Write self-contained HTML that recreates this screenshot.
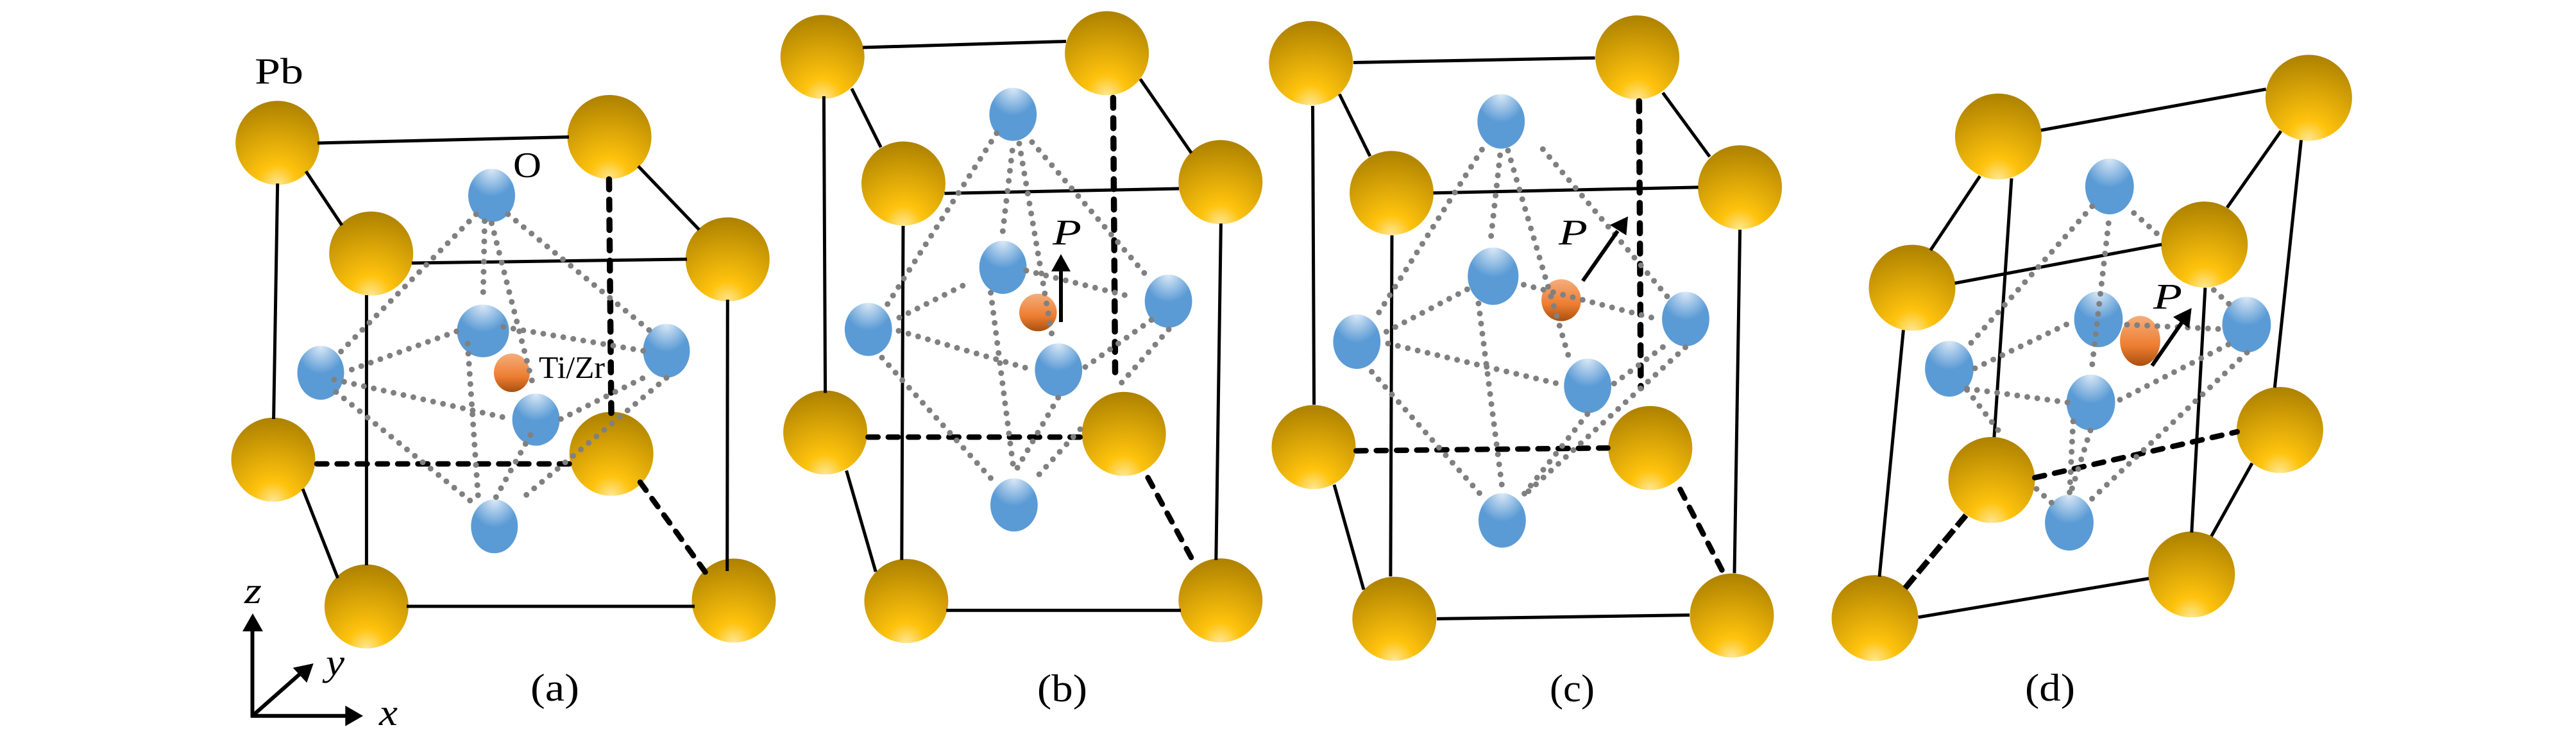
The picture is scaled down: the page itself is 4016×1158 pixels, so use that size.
<!DOCTYPE html>
<html>
<head>
<meta charset="utf-8">
<style>
html,body{margin:0;padding:0;background:#fff}
svg{display:block}
.s{stroke:#000;stroke-width:5;fill:none}
.d{stroke:#000;stroke-width:8.5;fill:none;stroke-dasharray:15.5 16;stroke-linecap:round}
.v{stroke:#000;stroke-width:9.5;fill:none;stroke-dasharray:15.5 16.2;stroke-linecap:round}
.t{stroke:#000;stroke-width:9;fill:none;stroke-dasharray:24 7.5}
.p{stroke:#808080;stroke-width:9;fill:none;stroke-dasharray:0 15.8;stroke-linecap:round}
.a{stroke:#000;stroke-width:6;fill:none}
.g{fill:url(#gold)}
.b{fill:url(#blue)}
.o{fill:url(#orange)}
text{font-family:"Liberation Serif",serif;fill:#000}
.i{font-style:italic}
</style>
</head>
<body>
<svg width="4016" height="1158" viewBox="0 0 4016 1158" xmlns="http://www.w3.org/2000/svg">
<defs>
<radialGradient id="gold" cx="0.5" cy="1" r="1" fx="0.5" fy="1">
<stop offset="0" stop-color="#FFE795"/>
<stop offset="0.24" stop-color="#FFC30D"/>
<stop offset="1" stop-color="#AD8100"/>
</radialGradient>
<radialGradient id="blue" cx="0.5" cy="0" r="0.65" fx="0.5" fy="0">
<stop offset="0" stop-color="#DDEAF7"/>
<stop offset="0.8" stop-color="#5B9BD5"/>
<stop offset="1" stop-color="#5B9BD5"/>
</radialGradient>
<linearGradient id="orange" x1="0" y1="0" x2="0" y2="1">
<stop offset="0" stop-color="#F4AE7C"/>
<stop offset="0.6" stop-color="#ED7D31"/>
<stop offset="1" stop-color="#A9500F"/>
</linearGradient>
</defs>
<rect width="4016" height="1158" fill="#fff"/>

<!-- Panel a -->
<g>
<circle class="g" cx="432.7" cy="222.6" r="65.5"/>
<circle class="g" cx="950.1" cy="213.5" r="65.5"/>
<circle class="g" cx="578.7" cy="395.1" r="65.5"/>
<circle class="g" cx="1134.3" cy="404.3" r="65.5"/>
<circle class="g" cx="426" cy="716.4" r="65.5"/>
<circle class="g" cx="953.2" cy="707.3" r="65.5"/>
<circle class="g" cx="571.4" cy="945.1" r="65.5"/>
<circle class="g" cx="1144" cy="936" r="65.5"/>
<line class="s" x1="495" y1="223" x2="887" y2="213.5"/>
<line class="s" x1="642" y1="410" x2="1071" y2="404"/>
<line class="s" x1="477" y1="267" x2="533" y2="351"/>
<line class="s" x1="995" y1="259" x2="1090" y2="358"/>
<line class="s" x1="432.7" y1="286" x2="426.6" y2="653"/>
<line class="s" x1="571.4" y1="460" x2="571.4" y2="881"/>
<line class="s" x1="1134.3" y1="467" x2="1133.7" y2="890"/>
<line class="s" x1="472" y1="762" x2="526.6" y2="901"/>
<line class="s" x1="634" y1="945" x2="1083" y2="945"/>
<line class="v" x1="949.5" y1="279.5" x2="953" y2="645"/>
<line class="d" x1="494" y1="723" x2="892.5" y2="723"/>
<line class="d" x1="998" y1="751.5" x2="1099.8" y2="892"/>
<ellipse class="b" cx="766.5" cy="304.6" rx="36.5" ry="41.5"/>
<ellipse class="b" cx="500" cy="581" rx="36.5" ry="42"/>
<ellipse class="b" cx="753" cy="515.8" rx="40.6" ry="41"/>
<ellipse class="b" cx="1039" cy="546.7" rx="36.5" ry="42"/>
<ellipse class="b" cx="835.6" cy="654" rx="37" ry="40.6"/>
<ellipse class="b" cx="770.8" cy="820.3" rx="36.5" ry="42"/>
<ellipse class="o" cx="798" cy="581" rx="28" ry="30"/>
<line class="p" x1="742.3" y1="334" x2="530" y2="549.5"/>
<line class="p" x1="755.6" y1="344.6" x2="753" y2="469"/>
<line class="p" x1="766.5" y1="348" x2="833" y2="607.7"/>
<line class="p" x1="792" y1="334" x2="1012" y2="514.4"/>
<line class="p" x1="548.4" y1="576" x2="713" y2="516"/>
<line class="p" x1="521" y1="591.6" x2="797" y2="653"/>
<line class="p" x1="784.7" y1="509.5" x2="1002.8" y2="546.7"/>
<line class="p" x1="874.4" y1="653" x2="1015" y2="583"/>
<line class="p" x1="524" y1="611" x2="745" y2="790"/>
<line class="p" x1="729" y1="535.4" x2="745.3" y2="772.6"/>
<line class="p" x1="827" y1="678" x2="772.6" y2="776"/>
<line class="p" x1="1039" y1="589" x2="809" y2="781"/>
<text x="397" y="130" font-size="57" textLength="76" lengthAdjust="spacingAndGlyphs">Pb</text>
<text x="800" y="276" font-size="56" textLength="44" lengthAdjust="spacingAndGlyphs">O</text>
<text x="840" y="589" font-size="49" textLength="103" lengthAdjust="spacingAndGlyphs">Ti/Zr</text>
<text x="827" y="1092" font-size="60" textLength="76" lengthAdjust="spacingAndGlyphs">(a)</text>
</g>

<!-- Axes -->
<g>
<line class="a" x1="393.5" y1="1118" x2="393.5" y2="975"/>
<polygon points="394,956 378,984 410,984" fill="#000"/>
<line class="a" x1="391" y1="1115.7" x2="545" y2="1115.7"/>
<polygon points="566,1115.7 538.3,1099.7 538.3,1131.7" fill="#000"/>
<line class="a" x1="393.5" y1="1115.7" x2="468" y2="1050"/>
<polygon points="488.7,1034 456.7,1040.7 478.3,1064" fill="#000"/>
<text class="i" x="381" y="940" font-size="58" textLength="27" lengthAdjust="spacingAndGlyphs">z</text>
<text class="i" x="508" y="1052" font-size="58" textLength="29" lengthAdjust="spacingAndGlyphs">y</text>
<text class="i" x="591" y="1130" font-size="58" textLength="29" lengthAdjust="spacingAndGlyphs">x</text>
</g>

<!-- Panel b -->
<g>
<circle class="g" cx="1282.2" cy="88.7" r="65.5"/>
<circle class="g" cx="1725.6" cy="82.9" r="65.5"/>
<circle class="g" cx="1408.5" cy="286" r="65.5"/>
<circle class="g" cx="1902.8" cy="283.8" r="65.5"/>
<circle class="g" cx="1286.6" cy="674" r="65.5"/>
<circle class="g" cx="1752.2" cy="676.2" r="65.5"/>
<circle class="g" cx="1412.9" cy="936.6" r="65.5"/>
<circle class="g" cx="1902.8" cy="935.8" r="65.5"/>
<line class="s" x1="1345" y1="74" x2="1662" y2="64.5"/>
<line class="s" x1="1472.5" y1="301.4" x2="1838" y2="294"/>
<line class="s" x1="1327.8" y1="138" x2="1373.3" y2="229.6"/>
<line class="s" x1="1777.6" y1="123.2" x2="1857.3" y2="238.4"/>
<line class="s" x1="1284.4" y1="150" x2="1286.6" y2="612.4"/>
<line class="s" x1="1408" y1="352" x2="1405.8" y2="872.8"/>
<line class="s" x1="1903.4" y1="348.4" x2="1895.8" y2="872.8"/>
<line class="s" x1="1319.6" y1="733.4" x2="1365.2" y2="891"/>
<line class="s" x1="1475.2" y1="951.2" x2="1841" y2="951.2"/>
<line class="v" x1="1735.4" y1="152.5" x2="1738.6" y2="586.7"/>
<line class="d" x1="1353.3" y1="681.3" x2="1684" y2="681.3"/>
<line class="d" x1="1789.6" y1="744.4" x2="1860" y2="874.2"/>
<ellipse class="b" cx="1579.3" cy="178.2" rx="36.9" ry="41.4"/>
<ellipse class="b" cx="1353.8" cy="513.4" rx="36.9" ry="41.4"/>
<ellipse class="b" cx="1563.6" cy="416.6" rx="36.9" ry="41.4"/>
<ellipse class="b" cx="1821.6" cy="469.4" rx="36.9" ry="41.4"/>
<ellipse class="b" cx="1650.3" cy="576.5" rx="36.9" ry="41.4"/>
<ellipse class="b" cx="1580.9" cy="787" rx="36.9" ry="41.4"/>
<ellipse class="o" cx="1618.3" cy="487" rx="29.3" ry="29.3"/>
<line class="p" x1="1553.8" y1="207.6" x2="1383" y2="475"/>
<line class="p" x1="1578.2" y1="234.7" x2="1563" y2="363"/>
<line class="p" x1="1589" y1="223.7" x2="1642" y2="534"/>
<line class="p" x1="1609" y1="221.5" x2="1786.9" y2="429"/>
<line class="p" x1="1402" y1="495" x2="1514" y2="438.6"/>
<line class="p" x1="1600" y1="421.7" x2="1768" y2="463.5"/>
<line class="p" x1="1401" y1="515.6" x2="1600" y2="573.5"/>
<line class="p" x1="1692" y1="572" x2="1795" y2="498.7"/>
<line class="p" x1="1375" y1="557.4" x2="1553.8" y2="755.4"/>
<line class="p" x1="1544.6" y1="456.2" x2="1581" y2="737"/>
<line class="p" x1="1649.7" y1="619.7" x2="1583.6" y2="733.4"/>
<line class="p" x1="1822" y1="513.4" x2="1741" y2="605"/>
<line class="p" x1="1684" y1="669" x2="1610.7" y2="749.6"/>
<line class="a" x1="1654" y1="502" x2="1654" y2="415"/>
<polygon points="1654,396 1639,423 1669,423" fill="#000"/>
<text class="i" x="1641" y="381" font-size="56" textLength="45" lengthAdjust="spacingAndGlyphs">P</text>
<text x="1617" y="1093" font-size="60" textLength="78" lengthAdjust="spacingAndGlyphs">(b)</text>
</g>

<!-- Panel c -->
<g>
<circle class="g" cx="2043.8" cy="98.3" r="65.5"/>
<circle class="g" cx="2552.7" cy="89.5" r="65.5"/>
<circle class="g" cx="2169.5" cy="300.7" r="65.5"/>
<circle class="g" cx="2712.6" cy="291.9" r="65.5"/>
<circle class="g" cx="2048" cy="696.7" r="65.5"/>
<circle class="g" cx="2572.8" cy="698.2" r="65.5"/>
<circle class="g" cx="2173.8" cy="964.4" r="65.5"/>
<circle class="g" cx="2700" cy="959.3" r="65.5"/>
<line class="s" x1="2109.9" y1="97.5" x2="2486.6" y2="90.2"/>
<line class="s" x1="2234.6" y1="300.7" x2="2647.6" y2="291.9"/>
<line class="s" x1="2088.2" y1="146.7" x2="2135.9" y2="243.5"/>
<line class="s" x1="2592.3" y1="144.5" x2="2665.4" y2="244.2"/>
<line class="s" x1="2046.5" y1="165" x2="2048.6" y2="630.7"/>
<line class="s" x1="2170" y1="366.7" x2="2167.9" y2="898.4"/>
<line class="s" x1="2712.6" y1="357.9" x2="2704" y2="893.3"/>
<line class="s" x1="2080" y1="755.4" x2="2126" y2="919"/>
<line class="s" x1="2240" y1="964.4" x2="2634" y2="958.6"/>
<line class="v" x1="2555.4" y1="157.7" x2="2558" y2="605"/>
<line class="d" x1="2114.2" y1="702.6" x2="2506.6" y2="698.2"/>
<line class="d" x1="2619.4" y1="762.7" x2="2687" y2="893.3"/>
<ellipse class="b" cx="2340.2" cy="189.2" rx="36.9" ry="42.5"/>
<ellipse class="b" cx="2115.3" cy="532.5" rx="36.9" ry="42.5"/>
<ellipse class="b" cx="2327.8" cy="430.5" rx="39.6" ry="44.7"/>
<ellipse class="b" cx="2628" cy="497.2" rx="36.9" ry="42.5"/>
<ellipse class="b" cx="2475.2" cy="601.4" rx="36.9" ry="42.5"/>
<ellipse class="b" cx="2341.9" cy="811.1" rx="36.9" ry="42.5"/>
<ellipse class="o" cx="2434" cy="467.9" rx="30.9" ry="32.6"/>
<line class="p" x1="2310.4" y1="233.2" x2="2147.8" y2="490"/>
<line class="p" x1="2338.6" y1="242" x2="2324" y2="374"/>
<line class="p" x1="2351" y1="234.7" x2="2446" y2="557.4"/>
<line class="p" x1="2405.3" y1="232.5" x2="2600.4" y2="463.5"/>
<line class="p" x1="2161.4" y1="517" x2="2291.5" y2="448.8"/>
<line class="p" x1="2164" y1="535.4" x2="2437.8" y2="600"/>
<line class="p" x1="2375.5" y1="443.7" x2="2589.6" y2="498.7"/>
<line class="p" x1="2516.4" y1="597.7" x2="2595" y2="539"/>
<line class="p" x1="2138.6" y1="579.4" x2="2307.7" y2="770"/>
<line class="p" x1="2305" y1="473" x2="2341.3" y2="755.4"/>
<line class="p" x1="2474.7" y1="645.4" x2="2367.3" y2="781"/>
<line class="p" x1="2627.5" y1="541.3" x2="2378.2" y2="770"/>
<line class="a" x1="2467.6" y1="437.8" x2="2522" y2="360"/>
<polygon points="2538,337.4 2509.9,350.6 2535.4,366.7" fill="#000"/>
<text class="i" x="2430" y="381" font-size="56" textLength="45" lengthAdjust="spacingAndGlyphs">P</text>
<text x="2416" y="1093" font-size="60" textLength="70" lengthAdjust="spacingAndGlyphs">(c)</text>
</g>

<!-- Panel d -->
<g>
<ellipse class="g" cx="3115.4" cy="212.7" rx="67.5" ry="67"/>
<ellipse class="g" cx="3599.4" cy="152.4" rx="67.5" ry="67"/>
<ellipse class="g" cx="2981" cy="448.5" rx="67.5" ry="67"/>
<ellipse class="g" cx="3436.8" cy="381.1" rx="67.5" ry="67"/>
<ellipse class="g" cx="3105" cy="748" rx="67.5" ry="67"/>
<ellipse class="g" cx="3554.4" cy="670.1" rx="67.5" ry="67"/>
<ellipse class="g" cx="2923" cy="963.4" rx="67.5" ry="67"/>
<ellipse class="g" cx="3416.8" cy="895.3" rx="67.5" ry="67"/>
<line class="s" x1="3182" y1="203" x2="3532.7" y2="139"/>
<line class="s" x1="3047.6" y1="441.4" x2="3370" y2="381"/>
<line class="s" x1="3086.7" y1="274.5" x2="3009.7" y2="390"/>
<line class="s" x1="3556" y1="204.3" x2="3472" y2="323.6"/>
<line class="s" x1="3136" y1="278" x2="3108.9" y2="681.3"/>
<line class="s" x1="2967.4" y1="514.4" x2="2930" y2="898.8"/>
<line class="s" x1="3587.5" y1="218.4" x2="3546.3" y2="604.2"/>
<line class="s" x1="3437.9" y1="448.5" x2="3416.8" y2="830"/>
<line class="s" x1="2990.7" y1="962" x2="3350" y2="901.6"/>
<line class="s" x1="3511" y1="722" x2="3447.6" y2="835.7"/>
<line class="d" x1="3172.3" y1="744.5" x2="3487.7" y2="673"/>
<line class="t" x1="2970" y1="916.7" x2="3065" y2="803"/>
<ellipse class="b" cx="3288.8" cy="290.6" rx="37.9" ry="43.5"/>
<ellipse class="b" cx="3039" cy="574.7" rx="37.9" ry="43.5"/>
<ellipse class="b" cx="3271.5" cy="497.6" rx="37.9" ry="43.5"/>
<ellipse class="b" cx="3502.4" cy="506" rx="37.9" ry="43.5"/>
<ellipse class="b" cx="3259.6" cy="627.3" rx="37.9" ry="43.5"/>
<ellipse class="b" cx="3226" cy="814.6" rx="37.9" ry="43.5"/>
<ellipse class="o" cx="3336.5" cy="531.2" rx="31.4" ry="39"/>
<line class="p" x1="3261.7" y1="321.5" x2="3072" y2="535.4"/>
<line class="p" x1="3287.2" y1="348" x2="3261.7" y2="569"/>
<line class="p" x1="3326.8" y1="332" x2="3364.7" y2="365.7"/>
<line class="p" x1="3451.4" y1="452" x2="3475.8" y2="474.4"/>
<line class="p" x1="3079" y1="574" x2="3223.8" y2="504.6"/>
<line class="p" x1="3066.6" y1="605.6" x2="3223.8" y2="627.3"/>
<line class="p" x1="3316" y1="506" x2="3465" y2="513"/>
<line class="p" x1="3305" y1="623" x2="3477" y2="535.4"/>
<line class="p" x1="3066.6" y1="607.7" x2="3123.5" y2="681.3"/>
<line class="p" x1="3175" y1="762" x2="3199.4" y2="784.5"/>
<line class="p" x1="3232" y1="656.8" x2="3226.5" y2="769"/>
<line class="p" x1="3259" y1="670.8" x2="3229" y2="765.5"/>
<line class="p" x1="3503" y1="549.5" x2="3259" y2="779.6"/>
<line class="a" x1="3355" y1="570" x2="3402" y2="502"/>
<polygon points="3416.7,480 3388,494 3413,511.7" fill="#000"/>
<text class="i" x="3357" y="481" font-size="56" textLength="45" lengthAdjust="spacingAndGlyphs">P</text>
<text x="3157" y="1092" font-size="60" textLength="78" lengthAdjust="spacingAndGlyphs">(d)</text>
</g>
</svg>
</body>
</html>
